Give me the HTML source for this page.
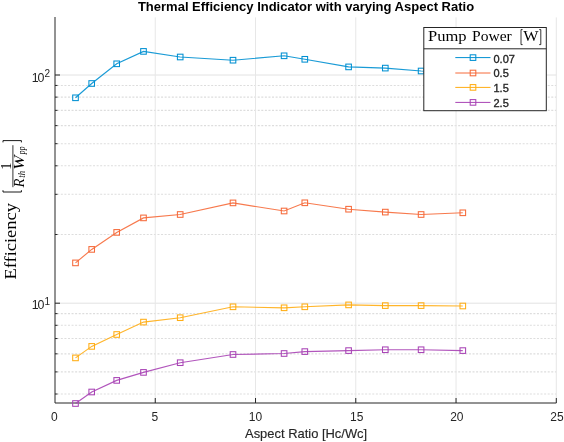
<!DOCTYPE html><html><head><meta charset="utf-8"><style>html,body{margin:0;padding:0;background:#fff;width:564px;height:442px;overflow:hidden}svg{display:block;will-change:transform}</style></head><body><svg width="564" height="442" viewBox="0 0 564 442">
<rect width="564" height="442" fill="#fff"/>
<line x1="55.0" y1="394.01" x2="556.3" y2="394.01" stroke="#dddddd" stroke-width="1.1" stroke-dasharray="2 1.58" stroke-dashoffset="1.34"/>
<line x1="55.0" y1="371.90" x2="556.3" y2="371.90" stroke="#dddddd" stroke-width="1.1" stroke-dasharray="2 1.58" stroke-dashoffset="1.34"/>
<line x1="55.0" y1="353.83" x2="556.3" y2="353.83" stroke="#dddddd" stroke-width="1.1" stroke-dasharray="2 1.58" stroke-dashoffset="1.34"/>
<line x1="55.0" y1="338.55" x2="556.3" y2="338.55" stroke="#dddddd" stroke-width="1.1" stroke-dasharray="2 1.58" stroke-dashoffset="1.34"/>
<line x1="55.0" y1="325.31" x2="556.3" y2="325.31" stroke="#dddddd" stroke-width="1.1" stroke-dasharray="2 1.58" stroke-dashoffset="1.34"/>
<line x1="55.0" y1="313.64" x2="556.3" y2="313.64" stroke="#dddddd" stroke-width="1.1" stroke-dasharray="2 1.58" stroke-dashoffset="1.34"/>
<line x1="55.0" y1="234.50" x2="556.3" y2="234.50" stroke="#dddddd" stroke-width="1.1" stroke-dasharray="2 1.58" stroke-dashoffset="1.34"/>
<line x1="55.0" y1="194.32" x2="556.3" y2="194.32" stroke="#dddddd" stroke-width="1.1" stroke-dasharray="2 1.58" stroke-dashoffset="1.34"/>
<line x1="55.0" y1="165.81" x2="556.3" y2="165.81" stroke="#dddddd" stroke-width="1.1" stroke-dasharray="2 1.58" stroke-dashoffset="1.34"/>
<line x1="55.0" y1="143.70" x2="556.3" y2="143.70" stroke="#dddddd" stroke-width="1.1" stroke-dasharray="2 1.58" stroke-dashoffset="1.34"/>
<line x1="55.0" y1="125.63" x2="556.3" y2="125.63" stroke="#dddddd" stroke-width="1.1" stroke-dasharray="2 1.58" stroke-dashoffset="1.34"/>
<line x1="55.0" y1="110.35" x2="556.3" y2="110.35" stroke="#dddddd" stroke-width="1.1" stroke-dasharray="2 1.58" stroke-dashoffset="1.34"/>
<line x1="55.0" y1="97.11" x2="556.3" y2="97.11" stroke="#dddddd" stroke-width="1.1" stroke-dasharray="2 1.58" stroke-dashoffset="1.34"/>
<line x1="55.0" y1="85.44" x2="556.3" y2="85.44" stroke="#dddddd" stroke-width="1.1" stroke-dasharray="2 1.58" stroke-dashoffset="1.34"/>
<line x1="55.0" y1="303.20" x2="556.3" y2="303.20" stroke="#e2e2e2" stroke-width="1"/>
<line x1="55.0" y1="75.00" x2="556.3" y2="75.00" stroke="#e2e2e2" stroke-width="1"/>
<line x1="155.26" y1="17.4" x2="155.26" y2="403.0" stroke="#e7e7e7" stroke-width="1"/>
<line x1="255.52" y1="17.4" x2="255.52" y2="403.0" stroke="#e7e7e7" stroke-width="1"/>
<line x1="355.78" y1="17.4" x2="355.78" y2="403.0" stroke="#e7e7e7" stroke-width="1"/>
<line x1="456.04" y1="17.4" x2="456.04" y2="403.0" stroke="#e7e7e7" stroke-width="1"/>
<line x1="556.30" y1="17.4" x2="556.30" y2="403.0" stroke="#e7e7e7" stroke-width="1"/>
<path d="M55.0 17.0 V403.0 H556.3" fill="none" stroke="#262626" stroke-width="1"/>
<line x1="155.26" y1="403.0" x2="155.26" y2="398.0" stroke="#262626" stroke-width="1"/>
<line x1="255.52" y1="403.0" x2="255.52" y2="398.0" stroke="#262626" stroke-width="1"/>
<line x1="355.78" y1="403.0" x2="355.78" y2="398.0" stroke="#262626" stroke-width="1"/>
<line x1="456.04" y1="403.0" x2="456.04" y2="398.0" stroke="#262626" stroke-width="1"/>
<line x1="556.30" y1="403.0" x2="556.30" y2="398.0" stroke="#262626" stroke-width="1"/>
<line x1="55.0" y1="303.20" x2="60.0" y2="303.20" stroke="#262626" stroke-width="1"/>
<line x1="55.0" y1="75.00" x2="60.0" y2="75.00" stroke="#262626" stroke-width="1"/>
<line x1="55.0" y1="394.01" x2="57.5" y2="394.01" stroke="#262626" stroke-width="1"/>
<line x1="55.0" y1="371.90" x2="57.5" y2="371.90" stroke="#262626" stroke-width="1"/>
<line x1="55.0" y1="353.83" x2="57.5" y2="353.83" stroke="#262626" stroke-width="1"/>
<line x1="55.0" y1="338.55" x2="57.5" y2="338.55" stroke="#262626" stroke-width="1"/>
<line x1="55.0" y1="325.31" x2="57.5" y2="325.31" stroke="#262626" stroke-width="1"/>
<line x1="55.0" y1="313.64" x2="57.5" y2="313.64" stroke="#262626" stroke-width="1"/>
<line x1="55.0" y1="234.50" x2="57.5" y2="234.50" stroke="#262626" stroke-width="1"/>
<line x1="55.0" y1="194.32" x2="57.5" y2="194.32" stroke="#262626" stroke-width="1"/>
<line x1="55.0" y1="165.81" x2="57.5" y2="165.81" stroke="#262626" stroke-width="1"/>
<line x1="55.0" y1="143.70" x2="57.5" y2="143.70" stroke="#262626" stroke-width="1"/>
<line x1="55.0" y1="125.63" x2="57.5" y2="125.63" stroke="#262626" stroke-width="1"/>
<line x1="55.0" y1="110.35" x2="57.5" y2="110.35" stroke="#262626" stroke-width="1"/>
<line x1="55.0" y1="97.11" x2="57.5" y2="97.11" stroke="#262626" stroke-width="1"/>
<line x1="55.0" y1="85.44" x2="57.5" y2="85.44" stroke="#262626" stroke-width="1"/>
<polyline points="75.50,97.80 91.70,83.50 116.70,63.80 143.50,51.40 180.20,57.00 233.00,60.20 284.10,55.80 304.80,59.30 348.60,66.90 385.30,68.10 421.10,71.00 462.80,73.00" fill="none" stroke="#0090D2" stroke-width="1.15" stroke-opacity="0.9"/>
<rect x="72.70" y="95.00" width="5.6" height="5.6" fill="none" stroke="#0090D2" stroke-width="1.05"/>
<rect x="88.90" y="80.70" width="5.6" height="5.6" fill="none" stroke="#0090D2" stroke-width="1.05"/>
<rect x="113.90" y="61.00" width="5.6" height="5.6" fill="none" stroke="#0090D2" stroke-width="1.05"/>
<rect x="140.70" y="48.60" width="5.6" height="5.6" fill="none" stroke="#0090D2" stroke-width="1.05"/>
<rect x="177.40" y="54.20" width="5.6" height="5.6" fill="none" stroke="#0090D2" stroke-width="1.05"/>
<rect x="230.20" y="57.40" width="5.6" height="5.6" fill="none" stroke="#0090D2" stroke-width="1.05"/>
<rect x="281.30" y="53.00" width="5.6" height="5.6" fill="none" stroke="#0090D2" stroke-width="1.05"/>
<rect x="302.00" y="56.50" width="5.6" height="5.6" fill="none" stroke="#0090D2" stroke-width="1.05"/>
<rect x="345.80" y="64.10" width="5.6" height="5.6" fill="none" stroke="#0090D2" stroke-width="1.05"/>
<rect x="382.50" y="65.30" width="5.6" height="5.6" fill="none" stroke="#0090D2" stroke-width="1.05"/>
<rect x="418.30" y="68.20" width="5.6" height="5.6" fill="none" stroke="#0090D2" stroke-width="1.05"/>
<rect x="460.00" y="70.20" width="5.6" height="5.6" fill="none" stroke="#0090D2" stroke-width="1.05"/>
<polyline points="75.50,262.90 91.70,249.40 116.70,232.40 143.50,217.90 180.20,214.50 233.00,202.90 284.10,211.00 304.80,202.80 348.60,209.20 385.30,212.10 421.10,214.50 462.80,212.80" fill="none" stroke="#F66A3A" stroke-width="1.15" stroke-opacity="0.9"/>
<rect x="72.70" y="260.10" width="5.6" height="5.6" fill="none" stroke="#F66A3A" stroke-width="1.05"/>
<rect x="88.90" y="246.60" width="5.6" height="5.6" fill="none" stroke="#F66A3A" stroke-width="1.05"/>
<rect x="113.90" y="229.60" width="5.6" height="5.6" fill="none" stroke="#F66A3A" stroke-width="1.05"/>
<rect x="140.70" y="215.10" width="5.6" height="5.6" fill="none" stroke="#F66A3A" stroke-width="1.05"/>
<rect x="177.40" y="211.70" width="5.6" height="5.6" fill="none" stroke="#F66A3A" stroke-width="1.05"/>
<rect x="230.20" y="200.10" width="5.6" height="5.6" fill="none" stroke="#F66A3A" stroke-width="1.05"/>
<rect x="281.30" y="208.20" width="5.6" height="5.6" fill="none" stroke="#F66A3A" stroke-width="1.05"/>
<rect x="302.00" y="200.00" width="5.6" height="5.6" fill="none" stroke="#F66A3A" stroke-width="1.05"/>
<rect x="345.80" y="206.40" width="5.6" height="5.6" fill="none" stroke="#F66A3A" stroke-width="1.05"/>
<rect x="382.50" y="209.30" width="5.6" height="5.6" fill="none" stroke="#F66A3A" stroke-width="1.05"/>
<rect x="418.30" y="211.70" width="5.6" height="5.6" fill="none" stroke="#F66A3A" stroke-width="1.05"/>
<rect x="460.00" y="210.00" width="5.6" height="5.6" fill="none" stroke="#F66A3A" stroke-width="1.05"/>
<polyline points="75.50,357.90 91.70,346.40 116.70,334.50 143.50,322.10 180.20,317.70 233.00,306.80 284.10,307.80 304.80,306.80 348.60,304.90 385.30,305.60 421.10,305.60 462.80,306.00" fill="none" stroke="#FFAD14" stroke-width="1.15" stroke-opacity="0.9"/>
<rect x="72.70" y="355.10" width="5.6" height="5.6" fill="none" stroke="#FFAD14" stroke-width="1.05"/>
<rect x="88.90" y="343.60" width="5.6" height="5.6" fill="none" stroke="#FFAD14" stroke-width="1.05"/>
<rect x="113.90" y="331.70" width="5.6" height="5.6" fill="none" stroke="#FFAD14" stroke-width="1.05"/>
<rect x="140.70" y="319.30" width="5.6" height="5.6" fill="none" stroke="#FFAD14" stroke-width="1.05"/>
<rect x="177.40" y="314.90" width="5.6" height="5.6" fill="none" stroke="#FFAD14" stroke-width="1.05"/>
<rect x="230.20" y="304.00" width="5.6" height="5.6" fill="none" stroke="#FFAD14" stroke-width="1.05"/>
<rect x="281.30" y="305.00" width="5.6" height="5.6" fill="none" stroke="#FFAD14" stroke-width="1.05"/>
<rect x="302.00" y="304.00" width="5.6" height="5.6" fill="none" stroke="#FFAD14" stroke-width="1.05"/>
<rect x="345.80" y="302.10" width="5.6" height="5.6" fill="none" stroke="#FFAD14" stroke-width="1.05"/>
<rect x="382.50" y="302.80" width="5.6" height="5.6" fill="none" stroke="#FFAD14" stroke-width="1.05"/>
<rect x="418.30" y="302.80" width="5.6" height="5.6" fill="none" stroke="#FFAD14" stroke-width="1.05"/>
<rect x="460.00" y="303.20" width="5.6" height="5.6" fill="none" stroke="#FFAD14" stroke-width="1.05"/>
<polyline points="75.50,403.50 91.70,392.00 116.70,380.40 143.50,372.40 180.20,362.70 233.00,354.50 284.10,353.50 304.80,351.60 348.60,350.60 385.30,349.75 421.10,349.75 462.80,350.60" fill="none" stroke="#A843B5" stroke-width="1.15" stroke-opacity="0.9"/>
<rect x="72.70" y="400.70" width="5.6" height="5.6" fill="none" stroke="#A843B5" stroke-width="1.05"/>
<rect x="88.90" y="389.20" width="5.6" height="5.6" fill="none" stroke="#A843B5" stroke-width="1.05"/>
<rect x="113.90" y="377.60" width="5.6" height="5.6" fill="none" stroke="#A843B5" stroke-width="1.05"/>
<rect x="140.70" y="369.60" width="5.6" height="5.6" fill="none" stroke="#A843B5" stroke-width="1.05"/>
<rect x="177.40" y="359.90" width="5.6" height="5.6" fill="none" stroke="#A843B5" stroke-width="1.05"/>
<rect x="230.20" y="351.70" width="5.6" height="5.6" fill="none" stroke="#A843B5" stroke-width="1.05"/>
<rect x="281.30" y="350.70" width="5.6" height="5.6" fill="none" stroke="#A843B5" stroke-width="1.05"/>
<rect x="302.00" y="348.80" width="5.6" height="5.6" fill="none" stroke="#A843B5" stroke-width="1.05"/>
<rect x="345.80" y="347.80" width="5.6" height="5.6" fill="none" stroke="#A843B5" stroke-width="1.05"/>
<rect x="382.50" y="346.95" width="5.6" height="5.6" fill="none" stroke="#A843B5" stroke-width="1.05"/>
<rect x="418.30" y="346.95" width="5.6" height="5.6" fill="none" stroke="#A843B5" stroke-width="1.05"/>
<rect x="460.00" y="347.80" width="5.6" height="5.6" fill="none" stroke="#A843B5" stroke-width="1.05"/>
<text x="54.30" y="420.5" font-family="Liberation Sans, sans-serif" font-size="12" fill="#262626" text-anchor="middle">0</text>
<text x="154.96" y="420.5" font-family="Liberation Sans, sans-serif" font-size="12" fill="#262626" text-anchor="middle">5</text>
<text x="255.52" y="420.5" font-family="Liberation Sans, sans-serif" font-size="12" fill="#262626" text-anchor="middle">10</text>
<text x="356.78" y="420.5" font-family="Liberation Sans, sans-serif" font-size="12" fill="#262626" text-anchor="middle">15</text>
<text x="456.84" y="420.5" font-family="Liberation Sans, sans-serif" font-size="12" fill="#262626" text-anchor="middle">20</text>
<text x="557.00" y="420.5" font-family="Liberation Sans, sans-serif" font-size="12" fill="#262626" text-anchor="middle">25</text>
<text x="31.8" y="81.6" font-family="Liberation Sans, sans-serif" font-size="12.4" fill="#262626" letter-spacing="-1.3">10</text>
<text x="44.6" y="77.19999999999999" font-family="Liberation Sans, sans-serif" font-size="10" fill="#262626">2</text>
<text x="31.8" y="309.3" font-family="Liberation Sans, sans-serif" font-size="12.4" fill="#262626" letter-spacing="-1.3">10</text>
<text x="44.6" y="304.90000000000003" font-family="Liberation Sans, sans-serif" font-size="10" fill="#262626">1</text>
<text x="306" y="10.5" font-family="Liberation Sans, sans-serif" font-size="13" font-weight="bold" fill="#000" text-anchor="middle">Thermal Efficiency Indicator with varying Aspect Ratio</text>
<text x="245" y="437.6" font-family="Liberation Sans, sans-serif" font-size="13.5" fill="#262626" stroke="#262626" stroke-width="0.15" textLength="122.2" lengthAdjust="spacingAndGlyphs">Aspect Ratio [Hc/Wc]</text>
<g transform="translate(16.3,279.6) rotate(-90)">
<text x="0" y="0" font-family="Liberation Serif, serif" font-size="17.6" fill="#000" textLength="76.6" lengthAdjust="spacingAndGlyphs">Efficiency</text>
<path d="M89.4 -13.3 H87.6 V5.1 H89.4 M137.2 -13.3 H139 V5.1 H137.2" fill="none" stroke="#000" stroke-width="0.9"/>
<line x1="92.4" y1="-3.4" x2="134.4" y2="-3.4" stroke="#000" stroke-width="0.8"/>
<text x="113.4" y="-5.7" font-family="Liberation Serif, serif" font-size="14.5" fill="#000" text-anchor="middle">1</text>
<text x="92.2" y="7.4" font-family="Liberation Serif, serif" font-size="14" font-style="italic" fill="#000" textLength="9" lengthAdjust="spacingAndGlyphs">R</text>
<text x="101.9" y="8.6" font-family="Liberation Serif, serif" font-size="9.5" font-style="italic" fill="#000" textLength="6.7" lengthAdjust="spacingAndGlyphs">th</text>
<text x="109.8" y="7.4" font-family="Liberation Serif, serif" font-size="14" font-style="italic" fill="#000" textLength="14.4" lengthAdjust="spacingAndGlyphs">W</text>
<text x="125.4" y="8.4" font-family="Liberation Serif, serif" font-size="10" font-style="italic" fill="#000" textLength="7.7" lengthAdjust="spacingAndGlyphs">pp</text>
</g>
<rect x="423.8" y="27.5" width="122.49999999999994" height="83.2" fill="#fff" stroke="#262626" stroke-width="1"/>
<line x1="423.8" y1="48.8" x2="546.3" y2="48.8" stroke="#262626" stroke-width="1"/>
<text x="428" y="41.3" font-family="Liberation Serif, serif" font-size="15" fill="#000" textLength="38.6" lengthAdjust="spacingAndGlyphs">Pump</text>
<text x="472" y="41.3" font-family="Liberation Serif, serif" font-size="15" fill="#000" textLength="39.8" lengthAdjust="spacingAndGlyphs">Power</text>
<text x="523.2" y="41.3" font-family="Liberation Serif, serif" font-size="15" fill="#000" textLength="15.3" lengthAdjust="spacingAndGlyphs">W</text>
<path d="M522.6 29.6 H521 V44.6 H522.6 M539.2 29.6 H540.8 V44.6 H539.2" fill="none" stroke="#000" stroke-width="0.8"/>
<line x1="455.3" y1="57.6" x2="490.5" y2="57.6" stroke="#0090D2" stroke-width="1"/>
<rect x="470.2" y="54.800000000000004" width="5.6" height="5.6" fill="none" stroke="#0090D2" stroke-width="1.05"/>
<text x="493.5" y="62.5" font-family="Liberation Sans, sans-serif" font-size="11" fill="#262626" stroke="#262626" stroke-width="0.35">0.07</text>
<line x1="455.3" y1="73.0" x2="490.5" y2="73.0" stroke="#F66A3A" stroke-width="1"/>
<rect x="470.2" y="70.2" width="5.6" height="5.6" fill="none" stroke="#F66A3A" stroke-width="1.05"/>
<text x="493.5" y="77.0" font-family="Liberation Sans, sans-serif" font-size="11" fill="#262626" stroke="#262626" stroke-width="0.35">0.5</text>
<line x1="455.3" y1="87.4" x2="490.5" y2="87.4" stroke="#FFAD14" stroke-width="1"/>
<rect x="470.2" y="84.60000000000001" width="5.6" height="5.6" fill="none" stroke="#FFAD14" stroke-width="1.05"/>
<text x="493.5" y="92.0" font-family="Liberation Sans, sans-serif" font-size="11" fill="#262626" stroke="#262626" stroke-width="0.35">1.5</text>
<line x1="455.3" y1="102.4" x2="490.5" y2="102.4" stroke="#A843B5" stroke-width="1"/>
<rect x="470.2" y="99.60000000000001" width="5.6" height="5.6" fill="none" stroke="#A843B5" stroke-width="1.05"/>
<text x="493.5" y="106.5" font-family="Liberation Sans, sans-serif" font-size="11" fill="#262626" stroke="#262626" stroke-width="0.35">2.5</text>
</svg></body></html>
